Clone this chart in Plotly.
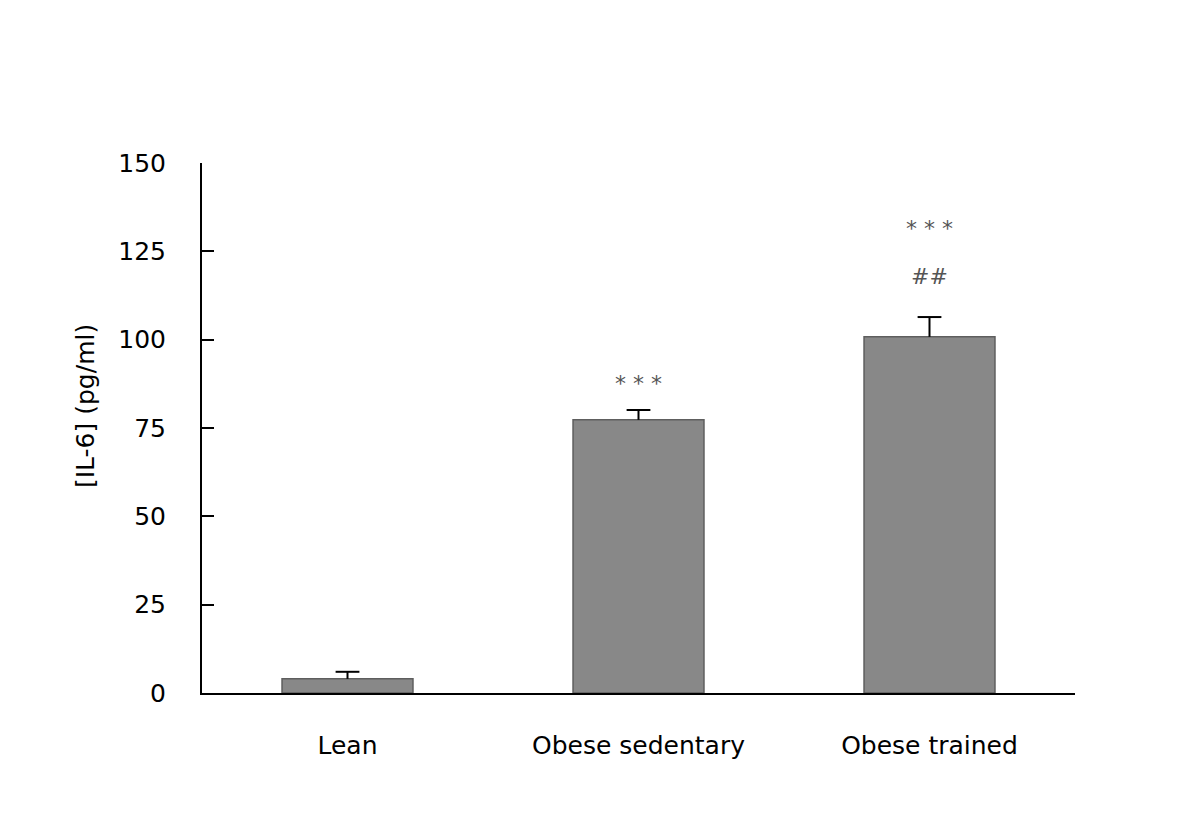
import plotly.graph_objects as go

# data
groups = ['Lean', 'Obese sedentary', 'Obese trained']
il6 = [4, 77.3, 100.8]
il6_err = [2, 2.8, 5.6]
y_ticks = [0, 25, 50, 75, 100, 125, 150]

# significance marks
sig_x = ['Obese sedentary', 'Obese trained', 'Obese trained']
sig_y = [87.5, 131.5, 118]
sig_text = ['* * *', '* * *', '##']

err_top = [v + e for v, e in zip(il6, il6_err)]

fig = go.Figure()

fig.add_trace(go.Bar(
    x=groups, y=il6,
    width=0.45,
    marker=dict(color='#888888', line=dict(color='#5e5e5e', width=1.5)),
    error_y=dict(type='data', array=il6_err, arrayminus=[0, 0, 0],
                 symmetric=False, color='black', thickness=2, width=0),
    showlegend=False
))

# caps of the error bars (upper side only)
fig.add_trace(go.Scatter(
    x=groups, y=err_top, mode='markers',
    marker=dict(symbol='line-ew', size=17, line=dict(color='black', width=2)),
    showlegend=False, hoverinfo='skip'
))

for x, y, t in zip(sig_x, sig_y, sig_text):
    fig.add_annotation(x=x, y=y, text=t, showarrow=False,
                       font=dict(family='DejaVu Sans', size=22, color='#555'))

# y axis title placed by hand (sits a bit above the axis centre)
fig.add_annotation(xref='paper', yref='paper', x=-0.134, y=0.5415,
                   xanchor='center', yanchor='middle',
                   text='[IL-6] (pg/ml)', textangle=-90, showarrow=False,
                   font=dict(family='DejaVu Sans', size=25, color='black'))

fig.update_layout(
    width=1200, height=822,
    margin=dict(l=194, r=133, t=155, b=137),
    plot_bgcolor='white', paper_bgcolor='white',
    font=dict(family='DejaVu Sans', size=25, color='black'),
    xaxis=dict(
        showline=True, linecolor='black', linewidth=2,
        ticks='outside', ticklen=29, tickcolor='rgba(0,0,0,0)',
        showgrid=False, zeroline=False,
    ),
    yaxis=dict(
        range=[0, 150], tickvals=y_ticks,
        showline=True, linecolor='black', linewidth=2,
        ticks='inside', ticklen=12, tickcolor='black', tickwidth=2,
        ticklabelstandoff=29,
        showgrid=False, zeroline=False,
    ),
)

fig.write_html("out.html")
